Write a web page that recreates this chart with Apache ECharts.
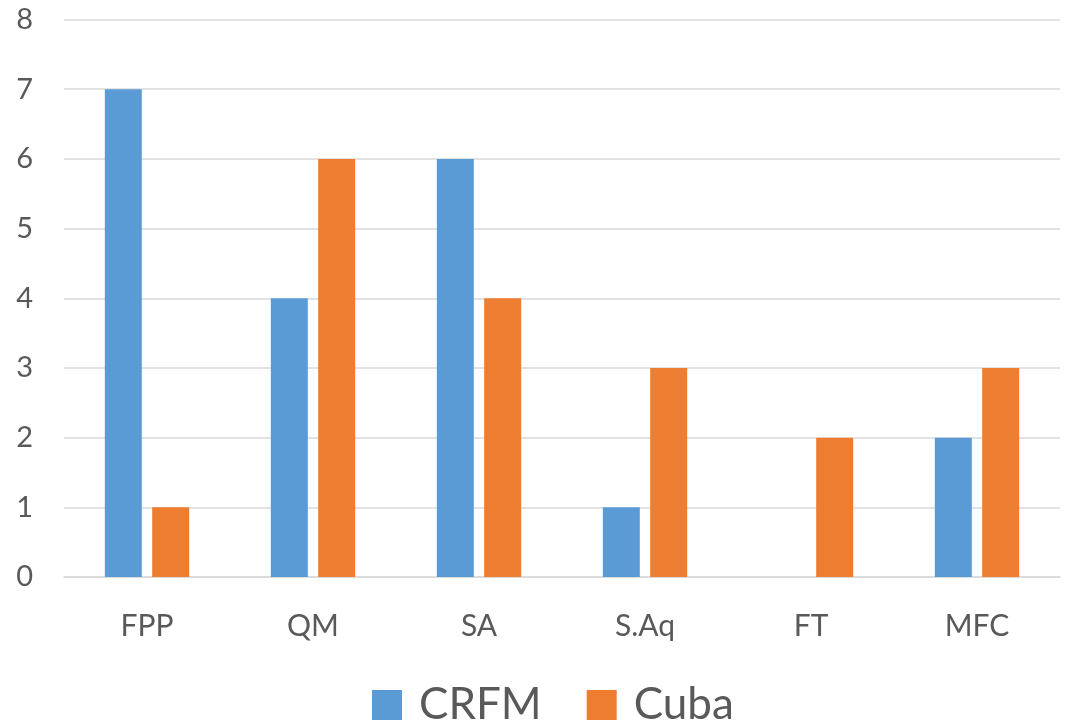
<!DOCTYPE html>
<html><head><meta charset="utf-8">
<script src="https://cdn.jsdelivr.net/npm/echarts@6/dist/echarts.min.js"></script>
<style>html,body{margin:0;padding:0;background:#fff}#c{width:1066px;height:724px}</style>
</head><body><div id="c"></div>
<script>
const categories = ['FPP','QM','SA','S.Aq','FT','MFC'];
const crfm = [7,4,6,1,0,2];
const cuba = [1,6,4,3,2,3];
const seriesNames = ['CRFM','Cuba'];
const chart = echarts.init(document.getElementById('c'));
const font = 'Lato, "Open Sans", sans-serif';
chart.setOption({
  animation:false,
  grid:{left:64,right:6,top:19.5,bottom:147,containLabel:false},
  legend:{data:seriesNames,top:683,left:372,itemWidth:30,itemHeight:30,itemGap:45,icon:'rect',padding:0,
    textStyle:{fontSize:44,color:'#595959',fontFamily:font,padding:[0,0,0,12]}},
  xAxis:{type:'category',data:categories,
    axisLine:{lineStyle:{color:'#d9d9d9',width:1.5}},axisTick:{show:false},
    axisLabel:{fontSize:30,color:'#595959',fontFamily:font,margin:34}},
  yAxis:{type:'value',min:0,max:8,interval:1,
    axisLine:{show:false},axisTick:{show:false},
    splitLine:{lineStyle:{color:'#d9d9d9',width:1.5}},
    axisLabel:{fontSize:29,color:'#595959',fontFamily:font,margin:31}},
  series:[
    {name:seriesNames[0],type:'bar',data:crfm,barWidth:37,barGap:'28%',itemStyle:{color:'#5B9BD5'}},
    {name:seriesNames[1],type:'bar',data:cuba,barWidth:37,barGap:'28%',itemStyle:{color:'#ED7D31'}}
  ]
});
</script></body></html>
